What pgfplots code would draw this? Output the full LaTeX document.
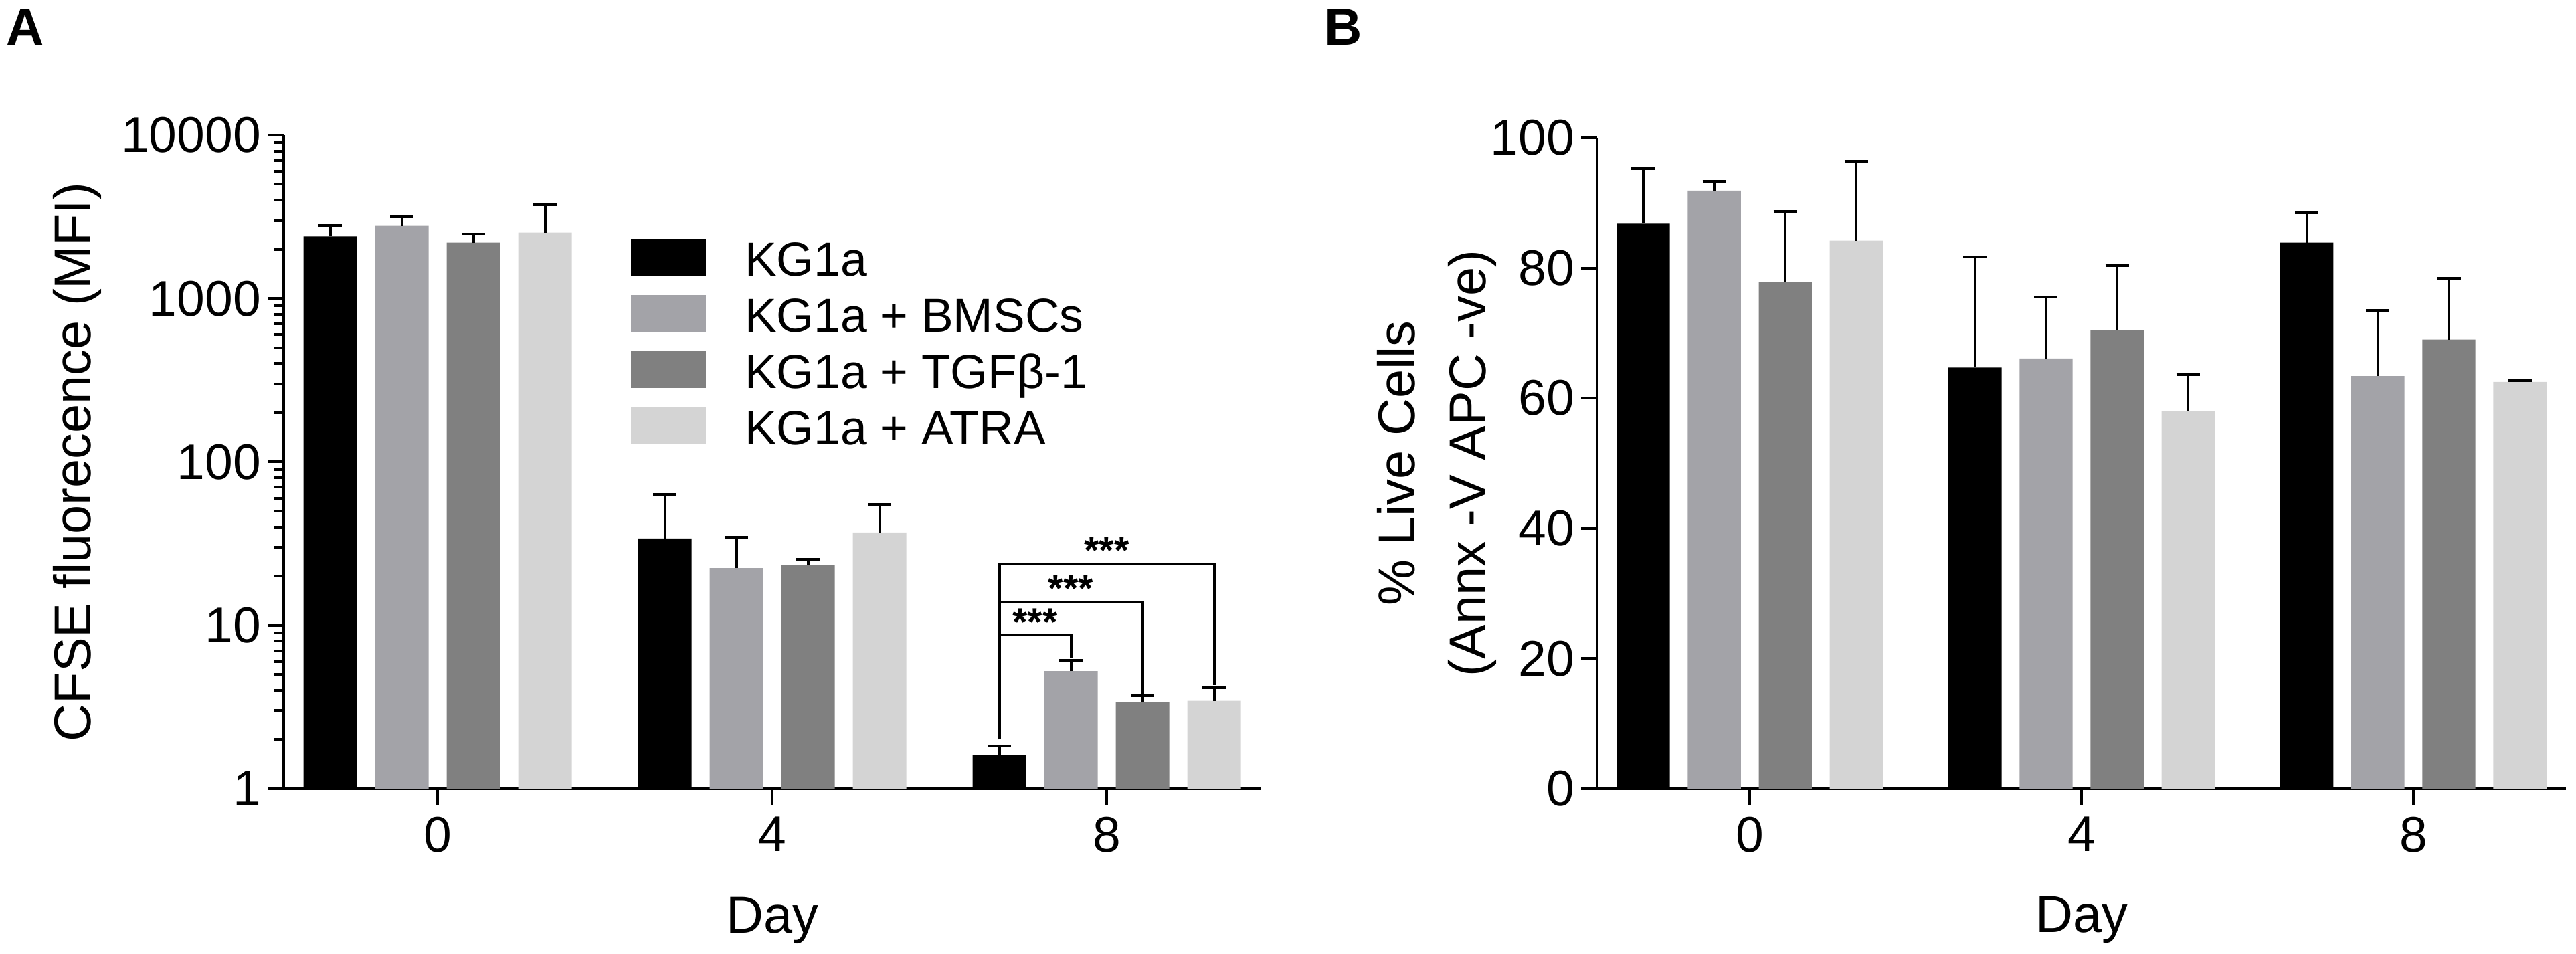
\documentclass[border=0pt]{standalone}
\usepackage{pgfplots}
\pgfplotsset{compat=1.18}
\usepackage{fontspec}
\setmainfont{Liberation Sans}
\definecolor{cK}{RGB}{0,0,0}
\definecolor{cB}{RGB}{163,163,168}
\definecolor{cT}{RGB}{128,128,128}
\definecolor{cA}{RGB}{212,212,212}
\pgfplotsset{
  mybar/.style={ybar, bar width=0.16, bar shift=0, draw=none, fill=#1,
    legend image code/.code={\fill[#1] (0pt,-2.8pt) rectangle (22.4pt,8.2pt);},
    error bars/.cd, y dir=plus, y explicit,
    error bar style={draw=black, line width=0.8pt, solid},
    error mark options={draw=black, line width=0.8pt, mark size=3.5pt, solid, rotate=90}},
  myaxis/.style={
    scale only axis,
    axis lines=left,
    axis line style={-, line width=0.8pt},
    every outer x axis line/.append style={-},
    every outer y axis line/.append style={-},
    tick style={black, line width=0.8pt},
    tick align=outside,
    major tick length=4.8pt, minor tick length=2.8pt,
    xmin=-0.46, xmax=2.46,
    xtick={0,1,2}, xticklabels={0,4,8},
    ticklabel style={font=\fontsize{15}{18}\selectfont},
    yticklabel style={xshift=1.5pt},
    /pgf/number format/assume math mode=true,
    label style={font=\fontsize{15.5}{21.2}\selectfont},
    xlabel={Day},
    xlabel style={at={(axis description cs:0.5,-0.2016)}, anchor=center},
    clip=false,
  }
}
\begin{document}
\begin{tikzpicture}
\useasboundingbox (0,0) rectangle (770pt,285.2pt);
\node[font=\bfseries\fontsize{15.6}{18}\selectfont] at (7.5pt,277pt) {A};
\node[font=\bfseries\fontsize{15.6}{18}\selectfont] at (401.6pt,277pt) {B};
% Panel A
\begin{axis}[myaxis, at={(84.8pt,49.4pt)}, anchor=south west,
  width=292pt, height=195.4pt,
  ymode=log, ymin=1, ymax=10000,
  ytick={1,10,100,1000,10000}, yticklabels={1,10,100,1000,10000},
  minor ytick={2,3,4,5,6,7,8,9,20,30,40,50,60,70,80,90,200,300,400,500,600,700,800,900,2000,3000,4000,5000,6000,7000,8000,9000},
  ylabel={CFSE fluorecence (MFI)},
  ylabel style={at={(axis description cs:-0.211,0.5)}, anchor=center},
  legend style={at={(axis description cs:0.3555,0.842)}, anchor=north west,
    draw=none, fill=none, inner sep=0pt, outer sep=0pt, row sep=0pt,
    /tikz/every odd column/.append style={column sep=11.6pt},
    font=\fontsize{14.3}{16}\selectfont,
    nodes={inner sep=0pt, text height=11.2pt, text depth=5.6pt}},
  legend cell align=left,
]
\addplot[mybar=cK] coordinates {(-0.321,2400) +- (0,400) (0.679,34) +- (0,29) (1.679,1.6) +- (0,0.23)};
\addlegendentry{KG1a}
\addplot[mybar=cB] coordinates {(-0.107,2780) +- (0,390) (0.893,22.4) +- (0,12.2) (1.893,5.25) +- (0,0.85)};
\addlegendentry{KG1a + BMSCs}
\addplot[mybar=cT] coordinates {(0.107,2200) +- (0,280) (1.107,23.3) +- (0,2.1) (2.107,3.4) +- (0,0.3)};
\addlegendentry{KG1a + TGFβ-1}
\addplot[mybar=cA] coordinates {(0.321,2530) +- (0,1220) (1.321,37) +- (0,18) (2.321,3.45) +- (0,0.7)};
\addlegendentry{KG1a + ATRA}
% significance brackets
\addplot[black, line width=0.8pt, forget plot] coordinates {(1.679,2.0) (1.679,23.8) (2.321,23.8) (2.321,4.3)};
\addplot[black, line width=0.8pt, forget plot] coordinates {(1.679,13.9) (2.107,13.9) (2.107,3.8)};
\addplot[black, line width=0.8pt, forget plot] coordinates {(1.679,8.7) (1.893,8.7) (1.893,6.3)};
\node[font=\bfseries\fontsize{11.5}{12}\selectfont, anchor=base, inner sep=0pt] at (axis cs:2.0,23.8) {***};
\node[font=\bfseries\fontsize{11.5}{12}\selectfont, anchor=base, inner sep=0pt] at (axis cs:1.893,13.9) {***};
\node[font=\bfseries\fontsize{11.5}{12}\selectfont, anchor=base, inner sep=0pt] at (axis cs:1.786,8.7) {***};
\end{axis}
% Panel B
\begin{axis}[myaxis, at={(477.4pt,49.4pt)}, anchor=south west,
  width=289.6pt, height=194.6pt,
  ymin=0, ymax=100, ytick={0,20,40,60,80,100},
  ylabel={\% Live Cells\\(Annx -V APC -ve)},
  ylabel style={align=center, at={(axis description cs:-0.1657,0.5)}, anchor=center},
]
\addplot[mybar=cK] coordinates {(-0.321,86.8) +- (0,8.5) (0.679,64.7) +- (0,17.0) (1.679,83.9) +- (0,4.6)};
\addplot[mybar=cB] coordinates {(-0.107,91.9) +- (0,1.4) (0.893,66.1) +- (0,9.4) (1.893,63.4) +- (0,10.1)};
\addplot[mybar=cT] coordinates {(0.107,77.9) +- (0,10.8) (1.107,70.4) +- (0,10.0) (2.107,69.0) +- (0,9.4)};
\addplot[mybar=cA] coordinates {(0.321,84.2) +- (0,12.2) (1.321,58.0) +- (0,5.6) (2.321,62.5) +- (0,0.2)};
\end{axis}
\end{tikzpicture}
\end{document}
